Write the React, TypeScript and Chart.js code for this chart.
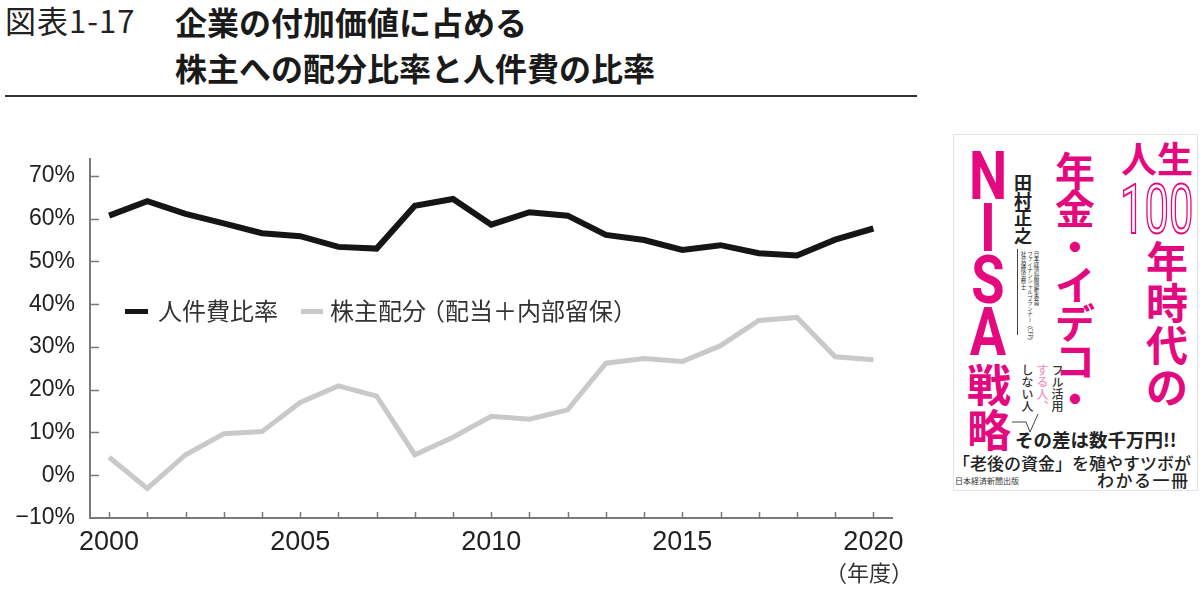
import { useEffect, useRef } from "react"
import { Chart, registerables } from "chart.js"

Chart.register(...registerables)

// fiscal years on the x axis
const years = [
  "2000", "2001", "2002", "2003", "2004", "2005", "2006", "2007", "2008", "2009", "2010",
  "2011", "2012", "2013", "2014", "2015", "2016", "2017", "2018", "2019", "2020",
]
const labeledYears = ["2000", "2005", "2010", "2015", "2020"]

// 人件費比率 (%)
const laborRatio = [
  60.7, 64.1, 61.1, 58.9, 56.6, 55.9, 53.4, 53.0, 63.0, 64.6, 58.6,
  61.5, 60.7, 56.2, 55.0, 52.7, 53.8, 51.9, 51.4, 55.1, 57.7,
]

// 株主配分（配当＋内部留保） (%)
const shareholderRatio = [
  4.2, -3.1, 4.8, 9.7, 10.2, 17.0, 20.9, 18.5, 4.8, 8.9, 13.8,
  13.1, 15.3, 26.2, 27.3, 26.6, 30.3, 36.2, 36.9, 27.7, 27.0,
]

const yTicks = [-10, 0, 10, 20, 30, 40, 50, 60, 70]

const JP = '"Noto Sans CJK JP", "Noto Sans CJK SC", sans-serif'
const LATIN = '"Liberation Sans", Arial, sans-serif'
const PINK = "#e4097f"

// tick marks drawn inward from the axes
const innerTicks = {
  id: "innerTicks",
  beforeDatasetsDraw(chart: any) {
    const { ctx, scales } = chart
    const x = scales.x
    const y = scales.y
    ctx.save()
    ctx.strokeStyle = "#7a7a7a"
    ctx.lineWidth = 1.5
    ctx.beginPath()
    yTicks.forEach((v) => {
      const py = Math.round(y.getPixelForValue(v)) + 0.5
      if (py >= y.bottom - 1) return
      ctx.moveTo(x.left, py)
      ctx.lineTo(x.left + 9, py)
    })
    years.forEach((_, i) => {
      const px = Math.round(x.getPixelForValue(i)) + 0.5
      ctx.moveTo(px, y.bottom)
      ctx.lineTo(px, y.bottom - 6)
    })
    ctx.stroke()
    ctx.restore()
  },
}

function RatioChart() {
  const chartRef = useRef<HTMLCanvasElement>(null)
  const chartInstance = useRef<Chart | null>(null)

  useEffect(() => {
    if (!chartRef.current) return
    if (chartInstance.current) chartInstance.current.destroy()

    const ctx = chartRef.current.getContext("2d")
    if (!ctx) return

    chartInstance.current = new Chart(ctx, {
      type: "line",
      data: {
        labels: years,
        datasets: [
          {
            label: "人件費比率",
            data: laborRatio,
            borderColor: "#151515",
            borderWidth: 6,
            pointRadius: 0,
            tension: 0,
            borderJoinStyle: "miter",
          },
          {
            label: "株主配分（配当＋内部留保）",
            data: shareholderRatio,
            borderColor: "#c9c9c9",
            borderWidth: 5,
            pointRadius: 0,
            tension: 0,
            borderJoinStyle: "miter",
          },
        ],
      },
      options: {
        responsive: false,
        animation: false,
        events: [],
        layout: { padding: { top: 15, right: 27.5, left: 0, bottom: 0 } },
        scales: {
          x: {
            type: "category",
            offset: true,
            grid: { display: false, drawTicks: false },
            border: { display: true, color: "#7a7a7a", width: 2 },
            ticks: {
              autoSkip: false,
              maxRotation: 0,
              padding: 8,
              color: "#222",
              font: { family: LATIN, size: 27 },
              callback: (_v, i) => (labeledYears.includes(years[i]) ? years[i] : ""),
            },
            afterFit: (s: any) => {
              s.height = 84
            },
          },
          y: {
            min: -10,
            max: 74,
            grid: { display: false, drawTicks: false },
            border: { display: true, color: "#7a7a7a", width: 2 },
            afterBuildTicks: (s: any) => {
              s.ticks = yTicks.map((v) => ({ value: v }))
            },
            ticks: {
              padding: 15,
              color: "#222",
              font: { family: LATIN, size: 23 },
              callback: (v: any) => (v < 0 ? "−" + Math.abs(v) : v) + "%",
            },
            afterFit: (s: any) => {
              s.width = 90
            },
          },
        },
        plugins: {
          legend: { display: false },
          tooltip: { enabled: false },
        },
      },
      plugins: [innerTicks],
    })

    return () => {
      if (chartInstance.current) {
        chartInstance.current.destroy()
        chartInstance.current = null
      }
    }
  }, [])

  return (
    <canvas
      ref={chartRef}
      width={920}
      height={472}
      style={{ position: "absolute", left: 0, top: 130, width: 920, height: 472 }}
    />
  )
}

const abs = (left: number, top: number, extra: any = {}) => ({
  position: "absolute" as const,
  left,
  top,
  margin: 0,
  whiteSpace: "pre" as const,
  ...extra,
})

function BookCover() {
  return (
    <div>
      <div
        style={abs(953, 134, {
          width: 243,
          height: 355,
          border: "1px solid #e4e4e4",
          background: "#fff",
        })}
      />
      {/* NISA */}
      <div
        style={abs(958, 151, {
          width: 60,
          textAlign: "center",
          fontFamily: "Roboto, sans-serif",
          fontWeight: 700,
          fontSize: 66,
          lineHeight: "52px",
          color: PINK,
          transform: "scaleX(0.82)",
        })}
      >
        {"N\nI\nS\nA"}
      </div>
      {/* 戦略 */}
      <div
        style={abs(967, 361, {
          fontFamily: JP,
          fontWeight: 700,
          fontSize: 44,
          lineHeight: "45px",
          color: PINK,
        })}
      >
        {"戦\n略"}
      </div>
      {/* author */}
      <div
        style={abs(1014, 174, {
          fontFamily: JP,
          fontWeight: 700,
          fontSize: 18,
          lineHeight: "17.5px",
          color: "#222",
        })}
      >
        {"田\n村\n正\n之"}
      </div>
      <div style={abs(1017, 249, { width: 1, height: 86, background: "#444" })} />
      <div
        style={abs(1020, 251, {
          writingMode: "vertical-rl",
          fontFamily: JP,
          fontSize: 5.5,
          lineHeight: "6.5px",
          color: "#333",
        })}
      >
        {"日本経済新聞編集委員\nファイナンシャルプランナー（CFP）\n社会保険労務士"}
      </div>
      {/* 年金・イデコ・ */}
      <div
        style={abs(1055, 150, {
          width: 40,
          textAlign: "center",
          fontFamily: JP,
          fontWeight: 700,
          fontSize: 40,
          lineHeight: "38px",
          color: PINK,
        })}
      >
        {"年\n金\n・\nイ\nデ\nコ\n・"}
      </div>
      {/* 人生 */}
      <div
        style={abs(1121, 139, {
          fontFamily: JP,
          fontWeight: 700,
          fontSize: 36,
          lineHeight: "36px",
          color: PINK,
        })}
      >
        人生
      </div>
      {/* 100 */}
      <div
        style={abs(1120, 176, {
          fontFamily: "Roboto, sans-serif",
          fontWeight: 400,
          fontSize: 68,
          lineHeight: "68px",
          color: "#fff",
          WebkitTextStroke: `2px ${PINK}`,
          transform: "scaleX(0.64)",
          transformOrigin: "left top",
        })}
      >
        100
      </div>
      {/* 年時代の */}
      <div
        style={abs(1146, 238, {
          width: 42,
          textAlign: "center",
          fontFamily: JP,
          fontWeight: 700,
          fontSize: 42,
          lineHeight: "42px",
          color: PINK,
        })}
      >
        {"年\n時\n代\nの"}
      </div>
      {/* フル活用 する人、しない人 */}
      <div
        style={abs(1020, 364, {
          writingMode: "vertical-rl",
          fontFamily: JP,
          fontWeight: 500,
          fontSize: 12,
          lineHeight: "15px",
          color: "#333",
        })}
      >
        <span>{"フル活用\n"}</span>
        <span style={{ color: "#f09ac4" }}>{"する人、\n"}</span>
        <span>{"しない人"}</span>
      </div>
      <svg style={abs(1008, 410, { overflow: "visible" })} width={60} height={24}>
        <polyline
          points="4,12 18,12 22,22 30,4"
          fill="none"
          stroke="#444"
          strokeWidth={1}
        />
      </svg>
      {/* その差は数千万円!! */}
      <div
        style={abs(1015, 428, {
          fontFamily: JP,
          fontWeight: 700,
          fontSize: 18.5,
          lineHeight: "22px",
          color: "#222",
        })}
      >
        その差は数千万円!!
      </div>
      <div
        style={abs(953, 453, {
          fontFamily: JP,
          fontWeight: 500,
          fontSize: 17,
          lineHeight: "19px",
          color: "#222",
        })}
      >
        「老後の資金」を殖やすツボが
      </div>
      <div
        style={abs(1097, 470, {
          fontFamily: JP,
          fontWeight: 500,
          fontSize: 17,
          lineHeight: "19px",
          letterSpacing: 1.5,
          color: "#222",
        })}
      >
        わかる一冊
      </div>
      <div
        style={abs(955, 476, {
          fontFamily: JP,
          fontSize: 8,
          lineHeight: "9px",
          color: "#333",
        })}
      >
        日本経済新聞出版
      </div>
    </div>
  )
}

export default function App() {
  useEffect(() => {
    document.body.style.margin = "0"
  }, [])

  return (
    <div
      style={{
        position: "absolute",
        left: 0,
        top: 0,
        width: 1200,
        height: 602,
        background: "#fff",
        overflow: "hidden",
        fontFamily: JP,
      }}
    >
      {/* heading */}
      <div
        style={abs(5, 4, {
          fontSize: 31,
          lineHeight: "32px",
          fontWeight: 400,
          letterSpacing: 1,
          color: "#222",
        })}
      >
        図表1-17
      </div>
      <div style={abs(175, 5, { fontSize: 32, lineHeight: "32px", fontWeight: 700, color: "#1a1a1a" })}>
        企業の付加価値に占める
      </div>
      <div style={abs(175, 51, { fontSize: 32, lineHeight: "32px", fontWeight: 700, color: "#1a1a1a" })}>
        株主への配分比率と人件費の比率
      </div>
      <div style={abs(5, 95, { width: 912, height: 2, background: "#333" })} />

      <RatioChart />

      {/* legend inside the plot */}
      <div style={abs(125, 309, { width: 23, height: 5, background: "#151515" })} />
      <div style={abs(158, 298, { fontSize: 24, lineHeight: "24px", color: "#333" })}>人件費比率</div>
      <div style={abs(301, 309, { width: 22, height: 5, background: "#c9c9c9" })} />
      <div style={abs(330, 298, { fontSize: 24, lineHeight: "24px", color: "#333" })}>
        株主配分<span style={{ marginLeft: -5 }}>（</span>配当＋内部留保）
      </div>

      {/* unit under the last year */}
      <div style={abs(825, 560, { fontSize: 22, lineHeight: "22px", color: "#333" })}>（年度）</div>

      <BookCover />
    </div>
  )
}
